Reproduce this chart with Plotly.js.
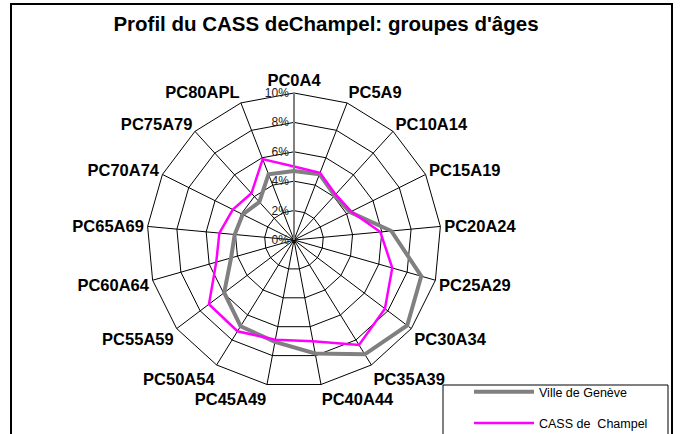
<!DOCTYPE html>
<html>
<head>
<meta charset="utf-8">
<script src="https://cdn.plot.ly/plotly-3.0.1.min.js"></script>
<style>
  html, body { margin: 0; padding: 0; background: #fff; }
  #chart { width: 682px; height: 434px; }
</style>
</head>
<body>
<div id="chart"></div>
<script>
// age groups, clockwise from the top
var groupes = ['PC0A4', 'PC5A9', 'PC10A14', 'PC15A19', 'PC20A24', 'PC25A29',
  'PC30A34', 'PC35A39', 'PC40A44', 'PC45A49', 'PC50A54', 'PC55A59',
  'PC60A64', 'PC65A69', 'PC70A74', 'PC75A79', 'PC80APL'];

// share of population per group, in %
var villeGeneve = [4.7, 4.8, 4.1, 4.25, 6.65, 9.0, 9.65, 9.15, 7.85, 7.05,
  6.9, 5.95, 4.45, 4.05, 3.9, 3.5, 4.8];
var cassChampel = [5.0, 4.9, 4.2, 4.35, 5.9, 6.95, 7.75, 8.4, 7.0, 6.9,
  7.3, 7.25, 5.5, 5.1, 4.65, 4.3, 5.9];

var radialTicks = [0, 2, 4, 6, 8, 10];
var radialLabels = ['0%', '2%', '4%', '6%', '8%', '10%'];

// close the polygons
function ferme(arr) { return arr.concat([arr[0]]); }

var traces = [{
  type: 'scatterpolar',
  r: ferme(villeGeneve),
  theta: ferme(groupes),
  mode: 'lines',
  name: 'Ville de Genève',
  legendgroup: 'a',
  line: { color: '#808080', width: 4 }
}, {
  type: 'scatterpolar',
  r: ferme(cassChampel),
  theta: ferme(groupes),
  mode: 'lines',
  name: 'CASS de  Champel',
  legendgroup: 'b',
  line: { color: '#ff00ff', width: 2.5 }
}];

var layout = {
  width: 682,
  height: 434,
  margin: { l: 0, r: 0, t: 0, b: 0, autoexpand: false },
  paper_bgcolor: '#fff',
  font: { family: 'Liberation Sans, Arial, sans-serif', color: '#000' },
  title: {
    text: "Profil du CASS deChampel: groupes d'âges",
    font: { size: 20.5, weight: 'bold', color: '#000' },
    x: 0.478, xanchor: 'center',
    y: 0.945, yanchor: 'middle'
  },
  showlegend: true,
  legend: {
    x: 469 / 682, xanchor: 'left',
    y: 1 - 377 / 434, yanchor: 'top',
    bgcolor: 'rgba(0,0,0,0)',
    borderwidth: 0,
    font: { size: 12.5, color: '#000' },
    itemwidth: 60,
    tracegroupgap: 12,
    traceorder: 'grouped'
  },
  polar: {
    domain: { x: [147 / 682, 441 / 682], y: [47 / 434, 341 / 434] },
    bgcolor: '#fff',
    gridshape: 'linear',
    angularaxis: {
      type: 'category',
      categoryarray: groupes,
      direction: 'clockwise',
      rotation: 90,
      showline: true,
      linecolor: '#000',
      linewidth: 1,
      gridcolor: '#000',
      gridwidth: 1,
      ticks: '',
      tickfont: { size: 16.5, weight: 'bold', color: '#000' }
    },
    radialaxis: {
      range: [0, 10],
      tickvals: radialTicks,
      ticktext: radialLabels,
      angle: 90,
      side: 'counterclockwise',
      tickangle: 90,
      showline: true,
      linecolor: '#808080',
      linewidth: 2,
      gridcolor: '#000',
      gridwidth: 1,
      ticks: '',
      tickfont: { size: 12, color: '#222' }
    }
  },
  shapes: [{
    type: 'rect',
    xref: 'paper', yref: 'paper',
    x0: 11 / 682, x1: 672 / 682,
    y0: -0.1, y1: 1 - 4 / 434,
    line: { color: '#000', width: 2 },
    layer: 'below'
  }, {
    // legend frame
    type: 'rect',
    xref: 'paper', yref: 'paper',
    x0: 443 / 682, x1: 668 / 682,
    y0: -0.1, y1: 1 - 385 / 434,
    line: { color: '#000', width: 1 },
    fillcolor: '#fff',
    layer: 'above'
  }]
};

Plotly.newPlot('chart', traces, layout, { staticPlot: true });
</script>
</body>
</html>
